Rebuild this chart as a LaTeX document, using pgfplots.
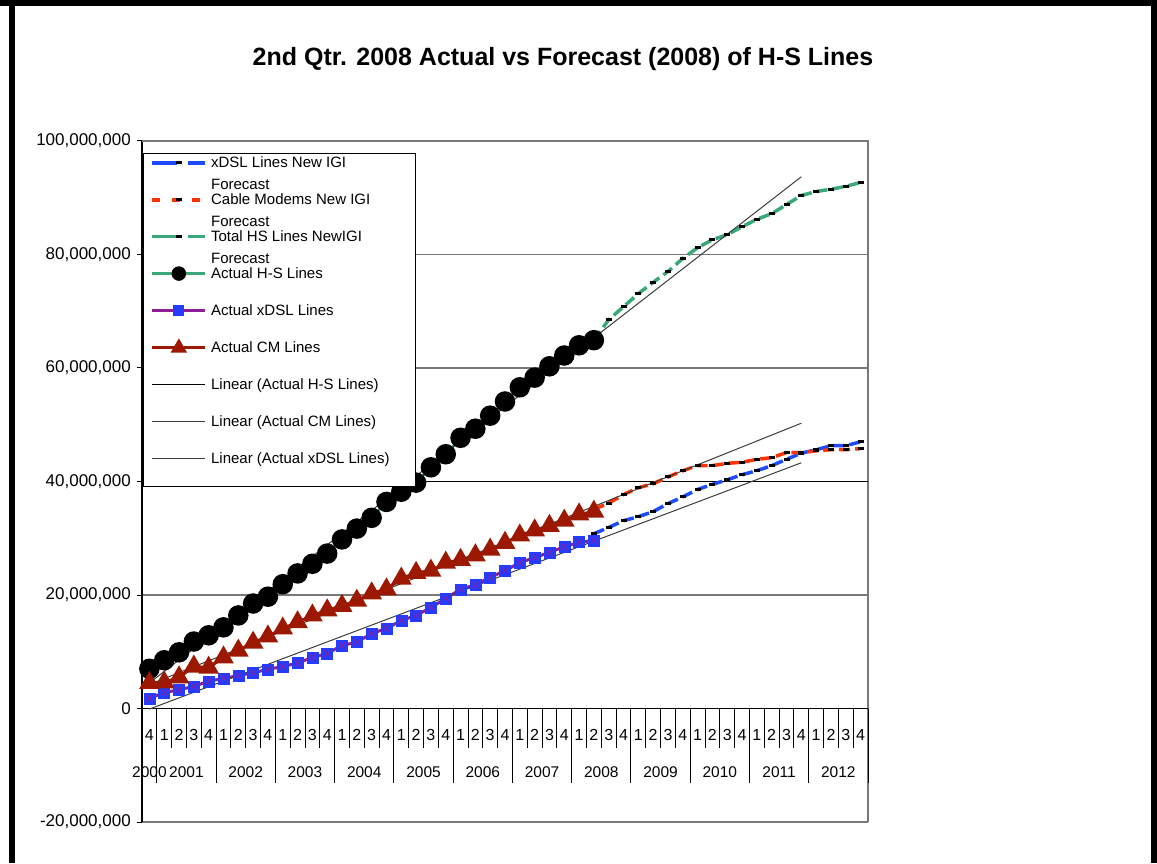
\documentclass[border=0pt]{standalone}
\usepackage{fontspec}
\setmainfont{Liberation Sans}
\usepackage{pgfplots}
\usepackage{pgfplotstable}
\pgfplotsset{compat=1.18}

\definecolor{dslblue}{RGB}{30,75,255}
\definecolor{cmred}{RGB}{255,51,0}
\definecolor{hsgreen}{RGB}{58,168,120}
\definecolor{cmdark}{RGB}{156,24,0}
\definecolor{dslpurple}{RGB}{140,30,150}
\definecolor{sqblue}{RGB}{35,60,255}
\definecolor{trendgray}{RGB}{60,60,60}
\definecolor{gridgray}{RGB}{120,120,120}

% actual quarterly lines, index 0 = 2000 Q4
\pgfplotstableread{
i  hs        dsl       cm
0  7000000   1800000   4500000
1  8500000   2800000   4600000
2  9900000   3300000   5500000
3  11800000  3900000   7400000
4  12900000  4800000   7200000
5  14300000  5300000   9000000
6  16400000  5800000   10200000
7  18500000  6300000   11600000
8  19700000  6900000   12700000
9  21900000  7400000   14100000
10 23800000  8000000   15200000
11 25500000  9000000   16400000
12 27300000  9700000   17300000
13 29800000  11100000  18100000
14 31700000  11700000  19000000
15 33600000  13200000  20300000
16 36400000  14100000  21000000
17 38200000  15500000  22900000
18 39800000  16400000  23900000
19 42500000  17800000  24300000
20 44800000  19400000  25700000
21 47700000  21000000  26200000
22 49300000  21800000  27000000
23 51600000  23100000  28000000
24 54100000  24300000  29200000
25 56600000  25700000  30500000
26 58300000  26600000  31400000
27 60300000  27500000  32200000
28 62200000  28500000  33100000
29 64000000  29300000  34200000
30 64900000  29600000  34700000
}\actual

% New IGI forecast, 2008 Q2 to 2012 Q4
\pgfplotstableread{
i  dsl       cm        tot
30 30800000  35100000  64900000
31 31900000  36200000  68500000
32 33100000  37700000  70800000
33 33800000  38900000  73100000
34 34700000  39600000  75100000
35 36100000  40800000  77000000
36 37300000  41900000  79300000
37 38600000  42800000  81200000
38 39500000  42800000  82600000
39 40300000  43200000  83500000
40 41200000  43400000  84900000
41 41900000  43900000  86200000
42 42800000  44200000  87200000
43 43900000  45100000  88800000
44 45000000  45100000  90400000
45 45600000  45400000  91100000
46 46300000  45600000  91500000
47 46300000  45600000  92000000
48 47000000  45800000  92700000
}\forecast

\begin{document}
\begin{tikzpicture}
\path[use as bounding box] (0pt,0pt) rectangle (1157pt,863pt);
\fill[black] (0pt,857pt) rectangle (1157pt,863pt);
\fill[black] (9pt,0pt) rectangle (15pt,863pt);
\fill[black] (1151pt,0pt) rectangle (1157pt,863pt);
\node[font=\fontsize{25}{29}\selectfont\bfseries] at (563pt,804pt)
  {2nd Qtr. 2008 Actual vs Forecast (2008) of H-S Lines};

\begin{axis}[
  at={(142pt,41pt)}, anchor=south west,
  scale only axis, width=726pt, height=681pt,
  xmin=-0.5, xmax=48.5, ymin=-20000000, ymax=100000000,
  clip=false,
  axis x line=none,
  axis y line*=left,
  y axis line style={black, line width=1.2pt},
  ytick={-20000000,0,20000000,40000000,60000000,80000000,100000000},
  yticklabels={{-20,000,000},{0},{20,000,000},{40,000,000},{60,000,000},{80,000,000},{100,000,000}},
  scaled y ticks=false,
  tick align=outside, major tick length=5pt,
  ytick style={black, line width=1pt},
  yticklabel style={font=\fontsize{17}{19}\selectfont, inner sep=0pt, xshift=-6pt},
  ymajorgrids, grid style={gridgray, line width=1.6pt},
  legend image code/.code={\draw[mark repeat=2,mark phase=2,#1] plot coordinates {(0pt,0pt) (26.5pt,0pt) (53pt,0pt)};},
  legend image post style={yshift=5pt},
  legend style={
    at={(axis description cs:0.0014,0.982)}, anchor=north west,
    draw=black, line width=1.2pt, fill=white,
    inner xsep=7pt, inner ysep=3pt,
    row sep=21.9pt, column sep=4pt,
    font=\fontsize{15}{18}\selectfont,
    cells={anchor=base west},
    nodes={inner sep=0pt, text height=11pt, text depth=4pt},
  },
]

% axis at zero and the two-level category ticks below it
\draw[black, line width=1.2pt] (rel axis cs:0,0) -- (rel axis cs:0,1);
\draw[gridgray, line width=1.6pt] (rel axis cs:0,1) -- (rel axis cs:1,1) -- (rel axis cs:1,0);
\draw[black, line width=1.5pt] (axis cs:-0.5,40000000) -- (axis cs:48.5,40000000);
\draw[black, line width=1.5pt] (axis cs:-0.5,0) -- (axis cs:48.5,0);
\pgfplotsinvokeforeach{0,...,47}{
  \draw[black, line width=0.9pt] (axis cs:#1.5,0) -- (axis cs:#1.5,-7000000);
}
\pgfplotsinvokeforeach{0,4,...,48}{
  \draw[black, line width=0.9pt] (axis cs:#1.5,0) -- (axis cs:#1.5,-13200000);
}
\pgfplotsinvokeforeach{0,...,48}{
  \node[font=\fontsize{16}{18}\selectfont, anchor=base, inner sep=0pt] at (axis cs:#1,-5640000)
    {\pgfmathparse{int(mod(#1+3,4)+1)}\pgfmathresult};
}
\node[font=\fontsize{15.5}{18}\selectfont, anchor=base, inner sep=0pt] at (axis cs:0,-12100000) {2000};
\node[font=\fontsize{15.5}{18}\selectfont, anchor=base, inner sep=0pt] at (axis cs:2.5,-12100000) {2001};
\node[font=\fontsize{15.5}{18}\selectfont, anchor=base, inner sep=0pt] at (axis cs:6.5,-12100000) {2002};
\node[font=\fontsize{15.5}{18}\selectfont, anchor=base, inner sep=0pt] at (axis cs:10.5,-12100000) {2003};
\node[font=\fontsize{15.5}{18}\selectfont, anchor=base, inner sep=0pt] at (axis cs:14.5,-12100000) {2004};
\node[font=\fontsize{15.5}{18}\selectfont, anchor=base, inner sep=0pt] at (axis cs:18.5,-12100000) {2005};
\node[font=\fontsize{15.5}{18}\selectfont, anchor=base, inner sep=0pt] at (axis cs:22.5,-12100000) {2006};
\node[font=\fontsize{15.5}{18}\selectfont, anchor=base, inner sep=0pt] at (axis cs:26.5,-12100000) {2007};
\node[font=\fontsize{15.5}{18}\selectfont, anchor=base, inner sep=0pt] at (axis cs:30.5,-12100000) {2008};
\node[font=\fontsize{15.5}{18}\selectfont, anchor=base, inner sep=0pt] at (axis cs:34.5,-12100000) {2009};
\node[font=\fontsize{15.5}{18}\selectfont, anchor=base, inner sep=0pt] at (axis cs:38.5,-12100000) {2010};
\node[font=\fontsize{15.5}{18}\selectfont, anchor=base, inner sep=0pt] at (axis cs:42.5,-12100000) {2011};
\node[font=\fontsize{15.5}{18}\selectfont, anchor=base, inner sep=0pt] at (axis cs:46.5,-12100000) {2012};

% forecast series
\addplot[forget plot, dslblue, line width=3.5pt, dash pattern=on 11pt off 5pt,
  mark=-, mark size=3pt, mark options={solid, black, line width=3pt}]
  table[x=i, y=dsl] {\forecast};
\addplot[forget plot, cmred, line width=3.5pt, dash pattern=on 11pt off 5pt,
  mark=-, mark size=3pt, mark options={solid, black, line width=3pt}]
  table[x=i, y=cm] {\forecast};
\addplot[forget plot, hsgreen, line width=3.5pt, dash pattern=on 11pt off 5pt,
  mark=-, mark size=3pt, mark options={solid, black, line width=3pt}]
  table[x=i, y=tot] {\forecast};

% actual series
\addplot[forget plot, hsgreen, line width=2.5pt, mark=*, mark size=9pt,
  mark options={black, fill=black}] table[x=i, y=hs] {\actual};
\addplot[forget plot, dslpurple, line width=3pt, mark=square*, mark size=5.5pt,
  mark options={sqblue, fill=sqblue, line width=0.5pt}] table[x=i, y=dsl] {\actual};
\addplot[forget plot, only marks, mark=x, mark size=4.5pt,
  mark options={dslpurple, line width=0.8pt}] table[x=i, y=dsl] {\actual};
\addplot[forget plot, cmdark, line width=3pt, mark=triangle*, mark size=9pt,
  mark options={cmdark, fill=cmdark}] table[x=i, y=cm] {\actual};

% linear trends of the actual series, carried 14 quarters ahead
\addplot[forget plot, trendgray, line width=1pt] coordinates {(0,4500000) (44,93700000)};
\addplot[forget plot, trendgray, line width=1pt] coordinates {(0,4220000) (44,50270000)};
\addplot[forget plot, trendgray, line width=1pt] coordinates {(0,-100000) (44,43300000)};

% legend
\addlegendimage{dslblue, line width=3.5pt, dash pattern=on 25pt off 11pt,
  mark=-, mark size=3pt, mark options={solid, black, line width=3pt}}
\addlegendentry{\begin{tabular}[t]{@{}l@{}}xDSL Lines New IGI\\[4pt]Forecast\end{tabular}}
\addlegendimage{cmred, line width=3.5pt, dash pattern=on 8pt off 12pt,
  mark=-, mark size=3pt, mark options={solid, black, line width=3pt}}
\addlegendentry{\begin{tabular}[t]{@{}l@{}}Cable Modems New IGI\\[4pt]Forecast\end{tabular}}
\addlegendimage{hsgreen, line width=3.5pt, dash pattern=on 25pt off 11pt,
  mark=-, mark size=3pt, mark options={solid, black, line width=3pt}}
\addlegendentry{\begin{tabular}[t]{@{}l@{}}Total HS Lines NewIGI\\[4pt]Forecast\end{tabular}}
\addlegendimage{hsgreen, line width=2.5pt, mark=*, mark size=6pt, mark options={black, fill=black}}
\addlegendentry{Actual H-S Lines}
\addlegendimage{dslpurple, line width=3pt, mark=square*, mark size=4pt,
  mark options={sqblue, fill=sqblue}}
\addlegendentry{Actual xDSL Lines}
\addlegendimage{cmdark, line width=3pt, mark=triangle*, mark size=6.5pt,
  mark options={cmdark, fill=cmdark}}
\addlegendentry{Actual CM Lines}
\addlegendimage{black, line width=1pt}
\addlegendentry{Linear (Actual H-S Lines)}
\addlegendimage{trendgray, line width=1pt}
\addlegendentry{Linear (Actual CM Lines)}
\addlegendimage{trendgray, line width=1pt}
\addlegendentry[text depth=20pt]{Linear (Actual xDSL Lines)\rule{18.6pt}{0pt}}
\end{axis}
\end{tikzpicture}
\end{document}
